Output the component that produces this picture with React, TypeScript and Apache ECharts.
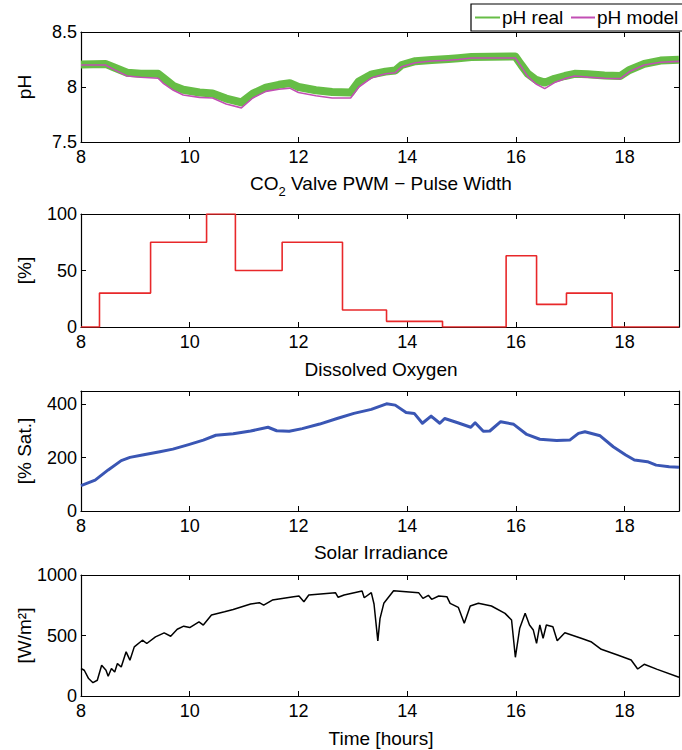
import React, { useEffect, useRef } from "react";
import * as echarts from "echarts";

const FONT = '"Liberation Sans", Arial, Helvetica, sans-serif';

// shared x ticks
const xTickValues = [8, 10, 12, 14, 16, 18];

// Plot 1: pH
const phTimes = [8, 8.45, 8.6, 8.85, 9.1, 9.42, 9.52, 9.7, 9.88, 10.18, 10.42, 10.67, 10.95, 11.16, 11.4, 11.64, 11.84, 12.0, 12.32, 12.62, 12.96, 13.11, 13.35, 13.6, 13.78, 13.9, 14.15, 14.45, 14.76, 14.94, 15.18, 15.99, 16.1, 16.22, 16.37, 16.53, 16.71, 16.9, 17.08, 17.32, 17.63, 17.92, 18.09, 18.36, 18.66, 19.0];
const phModel = [8.20, 8.20, 8.16, 8.10, 8.088, 8.08, 8.03, 7.97, 7.927, 7.906, 7.90, 7.845, 7.81, 7.90, 7.96, 7.98, 7.99, 7.95, 7.92, 7.90, 7.90, 8.00, 8.085, 8.12, 8.13, 8.185, 8.22, 8.236, 8.243, 8.25, 8.264, 8.264, 8.185, 8.094, 8.027, 7.985, 8.04, 8.076, 8.10, 8.09, 8.08, 8.076, 8.14, 8.20, 8.225, 8.233];
const phReal = [8.205, 8.21, 8.18, 8.13, 8.12, 8.12, 8.08, 8.01, 7.975, 7.95, 7.94, 7.895, 7.86, 7.94, 7.995, 8.02, 8.035, 8.00, 7.97, 7.955, 7.95, 8.05, 8.115, 8.14, 8.15, 8.20, 8.235, 8.245, 8.255, 8.262, 8.272, 8.278, 8.20, 8.12, 8.065, 8.04, 8.075, 8.10, 8.12, 8.115, 8.105, 8.10, 8.155, 8.21, 8.24, 8.248];
const phTicks = [7.5, 8, 8.5];
const legendNames = ["pH real", "pH model"];

// Plot 2: CO2 valve PWM pulse width (zero-order hold)
const pwmTimes = [8, 8.34, 9.28, 10.31, 10.84, 11.70, 12.81, 13.62, 14.65, 15.82, 16.38, 16.93, 17.77, 19];
const pwmValues = [0, 30, 75, 100, 50, 75, 15, 5, 0, 63, 20, 30, 0, 0];
const pwmTicks = [0, 50, 100];

// Plot 3: dissolved oxygen
const doTimes = [8.0, 8.26, 8.5, 8.74, 8.9, 9.13, 9.45, 9.69, 9.98, 10.25, 10.48, 10.8, 11.12, 11.44, 11.6, 11.83, 12.07, 12.39, 12.71, 13.02, 13.34, 13.62, 13.78, 13.98, 14.13, 14.28, 14.44, 14.6, 14.69, 14.93, 15.17, 15.25, 15.4, 15.52, 15.72, 15.96, 16.2, 16.44, 16.75, 16.99, 17.15, 17.27, 17.55, 17.79, 18.02, 18.18, 18.42, 18.58, 18.82, 19.0];
const doValues = [95, 116, 154, 189, 201, 210, 222, 232, 249, 266, 284, 290, 300, 314, 301, 299, 309, 326, 347, 366, 381, 402, 397, 369, 366, 329, 356, 329, 347, 331, 314, 331, 299, 300, 335, 325, 287, 269, 264, 266, 291, 297, 282, 241, 210, 191, 185, 172, 166, 164];
const doTicks = [0, 200, 400];

// Plot 4: solar irradiance
const solarTimes = [8.0, 8.06, 8.14, 8.22, 8.3, 8.38, 8.46, 8.5, 8.56, 8.62, 8.67, 8.74, 8.83, 8.9, 8.98, 9.13, 9.21, 9.37, 9.53, 9.65, 9.77, 9.89, 10.0, 10.17, 10.25, 10.4, 10.64, 10.8, 11.12, 11.28, 11.36, 11.52, 11.91, 12.01, 12.1, 12.19, 12.68, 12.73, 12.84, 13.17, 13.21, 13.34, 13.39, 13.46, 13.5, 13.57, 13.75, 14.21, 14.29, 14.39, 14.45, 14.58, 14.73, 14.79, 14.94, 15.05, 15.16, 15.31, 15.55, 15.8, 15.92, 15.99, 16.07, 16.17, 16.25, 16.32, 16.38, 16.44, 16.5, 16.56, 16.68, 16.76, 16.9, 17.2, 17.38, 17.57, 17.87, 18.12, 18.24, 18.36, 18.6, 19.0];
const solarValues = [227, 213, 144, 110, 130, 254, 213, 163, 227, 199, 268, 240, 365, 296, 406, 461, 434, 489, 522, 494, 552, 577, 566, 613, 586, 669, 696, 715, 760, 771, 751, 793, 820, 826, 779, 835, 854, 816, 835, 868, 812, 854, 760, 455, 640, 766, 870, 854, 807, 832, 799, 826, 821, 766, 733, 601, 744, 766, 744, 683, 628, 320, 560, 683, 587, 545, 435, 587, 477, 587, 573, 457, 523, 477, 449, 386, 339, 298, 223, 262, 220, 155];
const solarTicks = [0, 500, 1000];

const zip = (xs: number[], ys: number[]) => xs.map((x, i) => [x, ys[i]]);

const GREEN = "#66bd46";
const MAGENTA = "#c24fb4";
const RED = "#e8282a";
const BLUE = "#3a56b4";

const grids = [
  { top: 32, height: 110 },
  { top: 214, height: 113 },
  { top: 391, height: 120 },
  { top: 575, height: 121 },
];
const yRanges = [
  { min: 7.5, max: 8.5, interval: 0.5, ticks: phTicks },
  { min: 0, max: 100, interval: 50, ticks: pwmTicks },
  { min: 0, max: 450, interval: 200, ticks: doTicks },
  { min: 0, max: 1000, interval: 500, ticks: solarTicks },
];
const titles = [
  { text: "CO{sub|2} Valve PWM − Pulse Width", y: 183 },
  { text: "Dissolved Oxygen", y: 369 },
  { text: "Solar Irradiance", y: 552 },
  { text: "Time [hours]", y: 738 },
];
const yNames = ["pH", "[%]", "[% Sat.]", "[W/m²]"];

export default function App() {
  const ref = useRef<HTMLDivElement>(null);
  useEffect(() => {
    if (!ref.current) return;
    const chart = echarts.init(ref.current, undefined, { renderer: "svg" });
    const axisLine = { show: true, onZero: false, lineStyle: { color: "#000", width: 1.2 } };
    const axisTick = { show: true, inside: true, length: 5, lineStyle: { color: "#000", width: 1 } };
    const xAxis: any[] = [];
    const yAxis: any[] = [];
    grids.forEach((_, i) => {
      const xc = { gridIndex: i, type: "value", min: 8, max: 19, interval: 2, splitLine: { show: false }, axisLine, axisTick };
      xAxis.push({
        ...xc,
        position: "bottom",
        axisLabel: {
          show: true, fontSize: 18, color: "#000", fontFamily: FONT, margin: 6,
          formatter: (v: number) => (xTickValues.includes(v) ? String(v) : ""),
        },
      });
      xAxis.push({ ...xc, position: "top", axisLabel: { show: false } });
      const r = yRanges[i];
      const yc = { gridIndex: i, type: "value", min: r.min, max: r.max, interval: r.interval, splitLine: { show: false }, axisLine, axisTick };
      yAxis.push({
        ...yc,
        position: "left",
        axisLabel: {
          show: true, fontSize: 18, color: "#000", fontFamily: FONT, margin: 4,
          formatter: (v: number) => (r.ticks.some((t) => Math.abs(t - v) < 1e-9) ? String(v) : ""),
        },
      });
      yAxis.push({ ...yc, position: "right", axisLabel: { show: false } });
    });

    const graphic: any[] = [];
    titles.forEach((t) => {
      graphic.push({
        type: "text",
        x: 381,
        y: t.y,
        style: {
          text: t.text,
          fontSize: 19,
          fontFamily: FONT,
          fill: "#000",
          textAlign: "center",
          textVerticalAlign: "middle",
          verticalAlign: "middle",
          lineHeight: 30,
          rich: { sub: { fontSize: 13, fontFamily: FONT, lineHeight: 14, verticalAlign: "bottom", fill: "#000" } },
        },
      });
    });
    yNames.forEach((n, i) => {
      const g = grids[i];
      graphic.push({
        type: "text",
        x: 24,
        y: g.top + g.height / 2,
        rotation: Math.PI / 2,
        style: {
          text: n, fontSize: 19, fontFamily: FONT, fill: "#000",
          textAlign: "center", textVerticalAlign: "middle", verticalAlign: "middle",
        },
      });
    });
    // legend box (MATLAB style, clipped at right edge)
    const ly = 17.5;
    graphic.push({
      type: "group",
      z: 10,
      children: [
        { type: "rect", shape: { x: 471, y: 4, width: 240, height: 27 }, style: { fill: "#fff", stroke: "#000", lineWidth: 1.2 } },
        { type: "line", shape: { x1: 475, y1: ly, x2: 500, y2: ly }, style: { stroke: GREEN, lineWidth: 2 } },
        { type: "text", x: 502, y: ly, style: { text: legendNames[0], fontSize: 19, fontFamily: FONT, fill: "#000", textAlign: "left", textVerticalAlign: "middle", verticalAlign: "middle" } },
        { type: "line", shape: { x1: 571, y1: ly, x2: 595, y2: ly }, style: { stroke: MAGENTA, lineWidth: 2 } },
        { type: "text", x: 597, y: ly, style: { text: legendNames[1], fontSize: 19, fontFamily: FONT, fill: "#000", textAlign: "left", textVerticalAlign: "middle", verticalAlign: "middle" } },
      ],
    });

    chart.setOption({
      animation: false,
      backgroundColor: "#fff",
      grid: grids.map((g) => ({ left: 81, right: -1, top: g.top, height: g.height, containLabel: false })),
      xAxis,
      yAxis,
      graphic,
      series: [
        {
          name: legendNames[0], type: "line", xAxisIndex: 0, yAxisIndex: 0,
          data: zip(phTimes, phReal), symbol: "none", showSymbol: false,
          lineStyle: { color: GREEN, width: 8, join: "round" }, itemStyle: { color: GREEN },
        },
        {
          name: legendNames[1], type: "line", xAxisIndex: 0, yAxisIndex: 0,
          data: zip(phTimes, phModel), symbol: "none", showSymbol: false,
          lineStyle: { color: MAGENTA, width: 1.6 }, itemStyle: { color: MAGENTA },
        },
        {
          name: "PWM", type: "line", xAxisIndex: 2, yAxisIndex: 2, step: "end",
          data: zip(pwmTimes, pwmValues), symbol: "none", showSymbol: false,
          lineStyle: { color: RED, width: 1.6 }, itemStyle: { color: RED },
        },
        {
          name: "DO", type: "line", xAxisIndex: 4, yAxisIndex: 4,
          data: zip(doTimes, doValues), symbol: "none", showSymbol: false,
          lineStyle: { color: BLUE, width: 3, join: "round" }, itemStyle: { color: BLUE },
        },
        {
          name: "Solar", type: "line", xAxisIndex: 6, yAxisIndex: 6,
          data: zip(solarTimes, solarValues), symbol: "none", showSymbol: false,
          lineStyle: { color: "#000", width: 1.5 }, itemStyle: { color: "#000" },
        },
      ],
    });
    return () => chart.dispose();
  }, []);
  return <div ref={ref} style={{ position: "absolute", left: 0, top: 0, width: 682, height: 750 }} />;
}
